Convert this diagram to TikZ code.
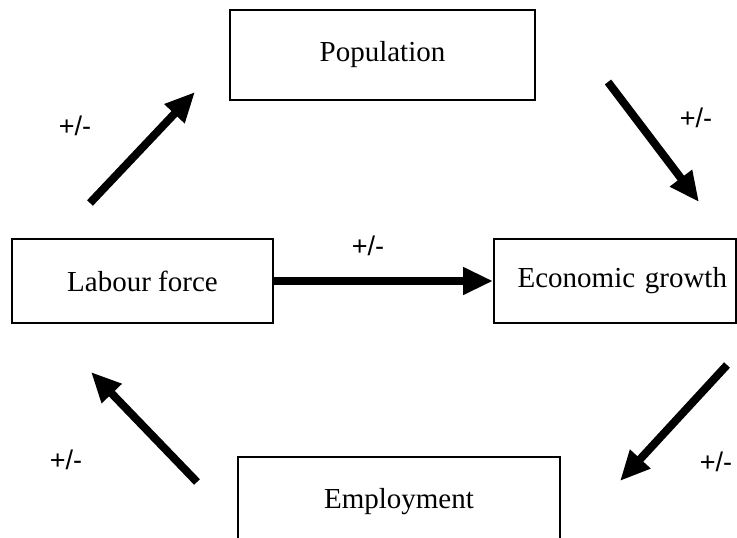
\documentclass[tikz,border=0pt]{standalone}
\usepackage{fontspec}
\setmainfont{Liberation Serif}
\newfontfamily\signfont{Liberation Sans}
\usetikzlibrary{arrows.meta}

\tikzset{
  factor/.style={draw, line width=2pt, inner sep=0pt, font=\fontsize{29}{34}\selectfont},
  link/.style={line width=8pt, -{Triangle[length=30pt,width=26pt]}},
  sign/.style={font=\signfont\fontsize{27}{32}\selectfont}
}

\begin{document}
\begin{tikzpicture}[x=1pt, y=-1pt]
\clip (0,0) rectangle (737,538);
\fill[white] (0,0) rectangle (737,538);

% the four factors
\node[factor, minimum width=305pt, minimum height=90pt] (pop) at (382.5,55) {Population};
\node[factor, minimum width=261pt, minimum height=84pt] (labour) at (142.5,281) {Labour force};
\node[factor, minimum height=84pt, text width=224pt, align=right, inner xsep=9pt] (growth) at (615,281) {Economic growth};
\node[factor, minimum width=322pt, minimum height=90pt] (employ) at (399,502) {Employment};

% free arrow ends
\coordinate (lp1) at (90,203);  \coordinate (lp2) at (195,92);
\coordinate (pg1) at (608,82);  \coordinate (pg2) at (699,202);
\coordinate (ge1) at (727,365); \coordinate (ge2) at (620,481);
\coordinate (el1) at (197,482); \coordinate (el2) at (91,372);

\draw[link] (lp1) -- (lp2);
\draw[link] (pg1) -- (pg2);
\draw[link] (ge1) -- (ge2);
\draw[link] (el1) -- (el2);
\draw[link] (labour.east) -- (growth.west);

% signs
\node[sign] (s1) at (75,126) {+/-};
\node[sign] (s2) at (696,118) {+/-};
\node[sign] (s3) at (716,462) {+/-};
\node[sign] (s4) at (66,460) {+/-};
\node[sign] (s5) at (368,246) {+/-};
\end{tikzpicture}
\end{document}
